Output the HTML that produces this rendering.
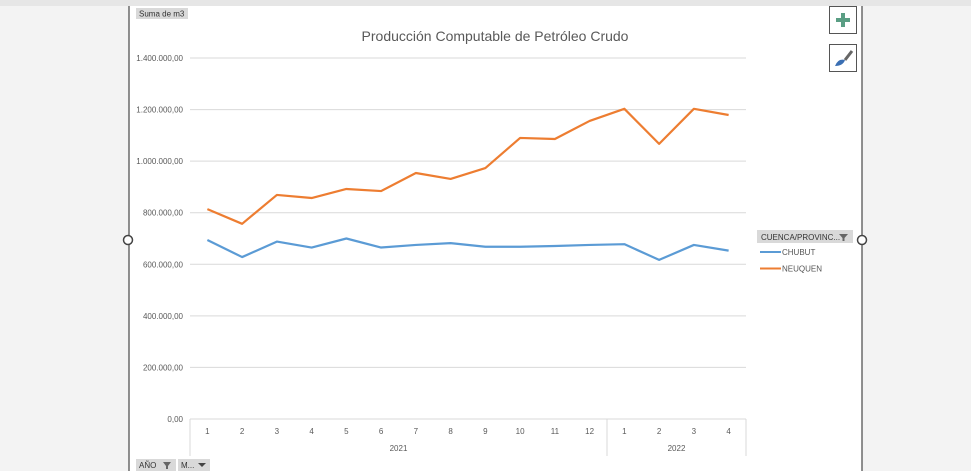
<!DOCTYPE html>
<html><head><meta charset="utf-8"><style>
body{margin:0;width:971px;height:471px;overflow:hidden;background:#f3f3f3;font-family:"Liberation Sans",sans-serif}
svg{position:absolute;left:0;top:0}
</style></head><body>
<svg id="c" width="971" height="471">
<rect x="0" y="0" width="971" height="6" fill="#e6e6e6"/>
<rect x="129" y="6" width="733" height="465" fill="#fff"/>
<line x1="129" y1="6" x2="129" y2="471" stroke="#555" stroke-width="1.3"/>
<line x1="862" y1="6" x2="862" y2="471" stroke="#555" stroke-width="1.3"/>
<circle cx="128" cy="240" r="4.5" fill="#fff" stroke="#444" stroke-width="1.5"/>
<circle cx="862" cy="240" r="4.5" fill="#fff" stroke="#444" stroke-width="1.5"/>
<g><rect x="829.5" y="6.5" width="27" height="27" fill="#fff" stroke="#555"/><rect x="841" y="13" width="4" height="14" fill="#5a9e84"/><rect x="836" y="18" width="14" height="4" fill="#5a9e84"/></g>
<g><rect x="829.5" y="44.5" width="27" height="27" fill="#fff" stroke="#555"/><path d="M835 66 Q838 58 845 60 Q843 66 835 66Z" fill="#3a6fb3"/><line x1="845" y1="60" x2="852" y2="51" stroke="#666" stroke-width="3"/></g>
<g><rect x="136" y="8" width="52" height="11" fill="#d9d9d9"/><text x="139" y="16.5" font-size="8" fill="#333">Suma de m3</text></g>
<text x="495" y="41" font-size="14" fill="#595959" text-anchor="middle">Producción Computable de Petróleo Crudo</text>
<g id="grid"></g><g id="ylab"></g><g id="xax"></g><g id="series"></g>
<g><rect x="757" y="230" width="96" height="13" fill="#d9d9d9"/><text x="761" y="240" font-size="8" fill="#333">CUENCA/PROVINC...</text><path d="M839 234h9l-3.5 4v3h-2v-3z" fill="#666"/></g>
<g><line x1="760" y1="252" x2="781" y2="252" stroke="#5b9bd5" stroke-width="2"/><text x="782" y="255" font-size="8" fill="#555">CHUBUT</text></g>
<g><line x1="760" y1="268.5" x2="781" y2="268.5" stroke="#ed7d31" stroke-width="2"/><text x="782" y="271.5" font-size="8" fill="#555">NEUQUEN</text></g>
<g><rect x="136" y="459" width="40" height="12" fill="#d9d9d9"/><text x="139" y="468" font-size="8" fill="#333">AÑO</text><path d="M163 462h8l-3 4v3h-2v-3z" fill="#666"/></g>
<g><rect x="178" y="459" width="32" height="12" fill="#d9d9d9"/><text x="181" y="468" font-size="8" fill="#333">M...</text><path d="M198 463h8l-4 4z" fill="#444"/></g>
</svg>
<script>
const months=["1","2","3","4","5","6","7","8","9","10","11","12","1","2","3","4"];
const years=["2021","2022"];
const yearCounts=[12,4];
const chubut=[694000,628000,688000,665000,700000,665000,675000,682000,668000,668000,671000,675000,678000,617000,675000,653000];
const neuquen=[814000,757000,869000,857000,892000,884000,954000,931000,973000,1090000,1086000,1156000,1203000,1067000,1203000,1179000];
const yTicks=[0,200000,400000,600000,800000,1000000,1200000,1400000];
const X0=190,X1=746,Y0=419,Y1=58,YMAX=1400000;
const ns="http://www.w3.org/2000/svg";
const step=(X1-X0)/months.length;
const xs=i=>X0+step*(i+0.5);
const ys=v=>Y0-(v/YMAX)*(Y0-Y1);
function mk(t,a,p){const e=document.createElementNS(ns,t);for(const k in a)e.setAttribute(k,a[k]);p.appendChild(e);return e;}
const fmt=v=>v.toLocaleString('de-DE')+",00";
const grid=document.getElementById('grid'),ylab=document.getElementById('ylab'),xax=document.getElementById('xax'),ser=document.getElementById('series');
yTicks.forEach(v=>{
 if(v>0){const l=mk('line',{x1:X0,x2:X1,y1:ys(v),y2:ys(v),stroke:'#d9d9d9'},grid);
 
 }
 const t=mk('text',{x:183,y:ys(v)+3,'font-size':8,fill:'#595959','text-anchor':'end'},ylab);t.textContent=fmt(v);
 
 
});
mk('line',{x1:X0,x2:X1,y1:Y0,y2:Y0,stroke:'#d9d9d9'},xax);
let b=0;[0].concat(yearCounts.map(c=>(b+=c))).forEach(k=>{mk('line',{x1:X0+step*k,x2:X0+step*k,y1:Y0,y2:456,stroke:'#d9d9d9'},xax);});
months.forEach((m,i)=>{const t=mk('text',{x:xs(i),y:434,'font-size':8,fill:'#595959','text-anchor':'middle'},xax);t.textContent=m;
 
 });
let s=0;years.forEach((y,j)=>{const c=X0+step*(s+yearCounts[j]/2);s+=yearCounts[j];const t=mk('text',{x:c,y:451,'font-size':8,fill:'#595959','text-anchor':'middle'},xax);t.textContent=y;
 
 });
[[chubut,'#5b9bd5','line-chubut'],[neuquen,'#ed7d31','line-neuquen']].forEach(([d,c,n])=>{
 const p=mk('polyline',{points:d.map((v,i)=>xs(i)+','+ys(v)).join(' '),fill:'none',stroke:c,'stroke-width':2.2,'stroke-linejoin':'round'},ser);
 
 
});
</script>
</body></html>
